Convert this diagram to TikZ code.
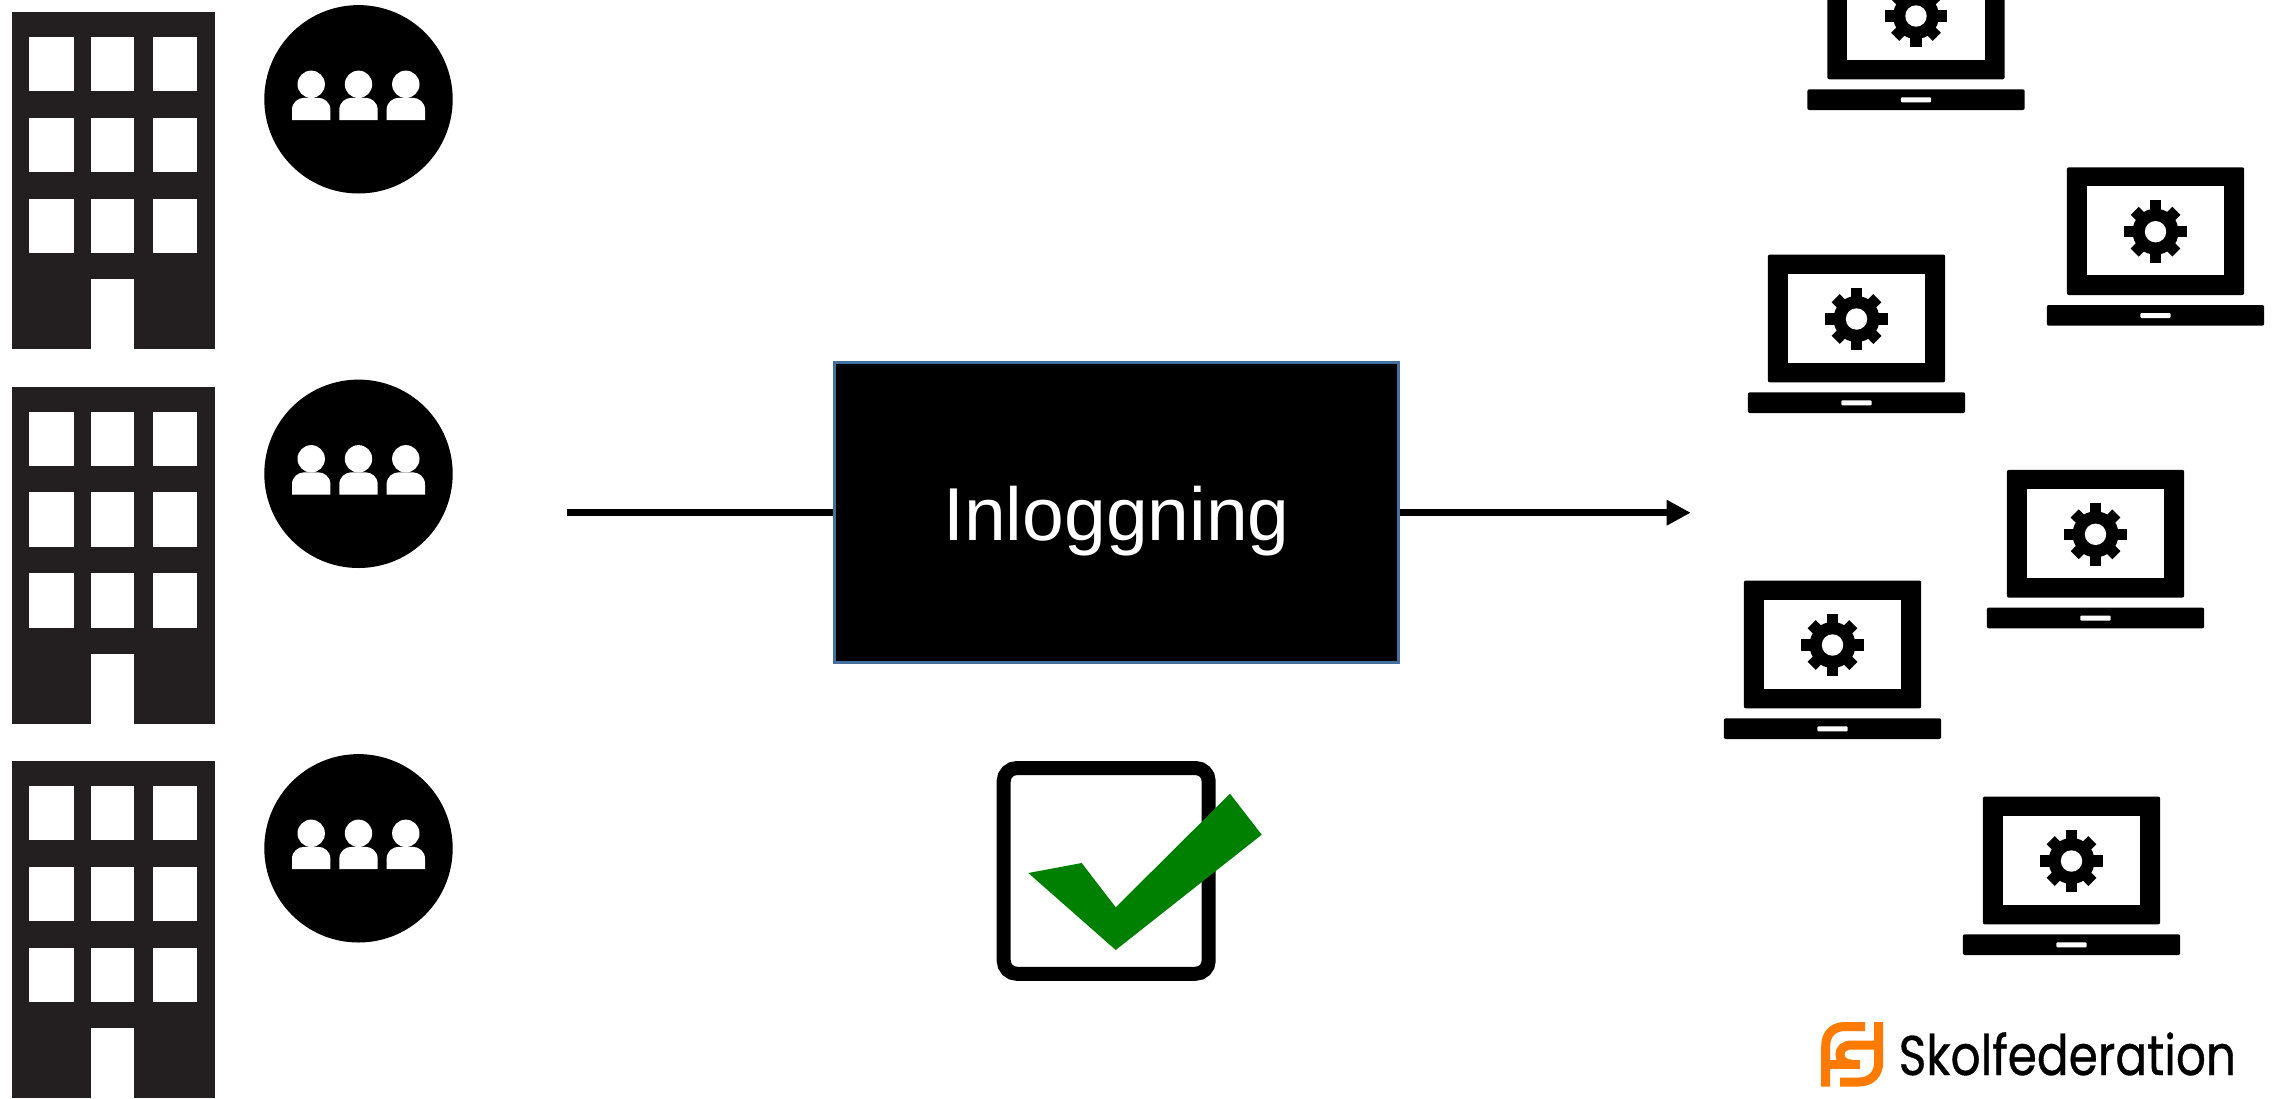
\documentclass[tikz,border=0pt]{standalone}
\usepackage{fontspec}
\setmainfont{Liberation Sans}
\newfontfamily\logofont[FakeStretch=0.84,FakeBold=0.6]{Poppins}
\usetikzlibrary{arrows.meta,positioning}

\definecolor{BuildingColor}{HTML}{231F20}
\definecolor{LoginBorder}{HTML}{41719C}
\definecolor{CheckGreen}{HTML}{008000}
\definecolor{LogoOrange}{HTML}{FF7A00}

\begin{document}
\begin{tikzpicture}[
        x=1pt, y=-1pt,
        line join=miter,
        login node/.style={
                draw=LoginBorder, fill=black, text=white, line width=3pt,
                minimum width=564pt, minimum height=299.5pt, inner sep=0pt,
                text height=70pt, text depth=14pt,
                font=\fontsize{75}{90}\selectfont,
            },
        check node/.style={
                draw=black, line width=14pt, rounded corners=13pt,
                minimum width=205pt, minimum height=205.7pt,
            },
        flow line/.style={draw=black, line width=7.5pt},
        logo line/.style={draw=LogoOrange, line width=9pt},
    ]
    \newcommand*{\RowStep}{374.5}

    \newcommand*{\DrawBuilding}[1]{
        \begin{scope}[shift={(0,#1)}]
            \fill[BuildingColor] (12,12) rectangle (214.8,349);
            \foreach \WinX/\WinW in {29.3/44.4, 91.3/43, 153/43.7} {
                    \foreach \WinY in {37, 117.7, 198.7} {
                            \fill[white] (\WinX,\WinY) rectangle +(\WinW,54.4);
                        }
                }
            \fill[white] (91.3,279.3) rectangle (134.3,349.5);
        \end{scope}
    }

    \newcommand*{\DrawPeople}[1]{
        \begin{scope}[shift={(358.5,99.3+#1)}]
            \fill[black] (0,0) circle[radius=94.2];
            \foreach \PersonX in {-47.3, 0, 47.3} {
                    \begin{scope}[shift={(\PersonX,0)}, white]
                        \fill (0,-15) circle[radius=13.7];
                        \fill (-19.2,20.7) -- (-19.2,10.5)
                        .. controls (-19.2,3) and (-13,-1.5) .. (-7,-1.5) -- (7,-1.5)
                        .. controls (13,-1.5) and (19.2,3) .. (19.2,10.5)
                        -- (19.2,20.7) -- cycle;
                    \end{scope}
                }
        \end{scope}
    }

    \newcommand*{\DrawLaptop}[2]{
        \begin{scope}[shift={(#1,#2)}]
            \fill[black, rounded corners=2pt] (-88.7,-64.4) rectangle (88.7,63.3);
            \fill[white] (-68.8,-45.4) rectangle (68.8,43.6);
            \fill[black, rounded corners=2pt] (-108.7,73.3) rectangle (108.7,94);
            \fill[white, rounded corners=1pt] (-15.2,81.3) rectangle (15.2,86.3);
            % gear: four bars give the eight teeth
            \foreach \TeethAngle/\TeethLen in {0/31.3, 45/29.5, 90/31.3, 135/29.5} {
                    \fill[black, rotate=\TeethAngle] (-5.7,-\TeethLen) rectangle (5.7,\TeethLen);
                }
            \fill[black] (0,0) circle[radius=23];
            \fill[white] (0,0) circle[radius=10.7];
        \end{scope}
    }

    \useasboundingbox (0,0) rectangle (2277,1098);
    \clip (0,0) rectangle (2277,1098);

    \foreach \Row in {0, 1, 2} {
            \pgfmathsetmacro\RowY{\Row*\RowStep}
            \DrawBuilding{\RowY}
            \DrawPeople{\RowY}
        }

    \foreach \LapX/\LapY in {
            1916/16, 2155.5/231.7, 1856.5/319,
            2095.5/534.3, 1832.5/645, 2071.5/861
        } {
            \DrawLaptop{\LapX}{\LapY}
        }

    % login box with the line through it
    \node[login node] (Login) at (1116.5,512.7) {Inloggning};
    \coordinate (FlowStart) at (567,512.7);
    \coordinate (FlowEnd) at (1690.7,512.7);
    \draw[flow line] (FlowStart) -- (Login.west);
    \draw[flow line, -{Triangle[length=24pt,width=24pt]}] (Login.east) -- (FlowEnd);

    % check box and green tick
    \node[check node] (CheckBox) at (1106.2,870.9) {};
    \fill[CheckGreen] (1028.3,873) -- (1081.7,863) -- (1115.7,907.3)
    -- (1230,793.7) -- (1261.7,834.7) -- (1115.7,950) -- cycle;

    % logo
    \draw[logo line] (1825.7,1086.7) -- (1825.7,1046)
    .. controls (1825.7,1034) and (1833,1026.5) .. (1845,1026.5) -- (1865,1026.5);
    \draw[logo line] (1878.7,1022) -- (1878.7,1062)
    .. controls (1878.7,1074) and (1871,1082) .. (1859,1082) -- (1840,1082);
    \draw[logo line] (1878,1045) -- (1852,1045)
    .. controls (1844,1045) and (1840,1049) .. (1840,1054.5)
    .. controls (1840,1060) and (1844,1064) .. (1852,1064);
    \draw[logo line] (1830,1064) -- (1860,1064);
    \node[anchor=base west, inner sep=0pt, font=\logofont\fontsize{56}{60}\selectfont]
    (LogoText) at (1898.5,1075) {Skolfederation};
\end{tikzpicture}
\end{document}
